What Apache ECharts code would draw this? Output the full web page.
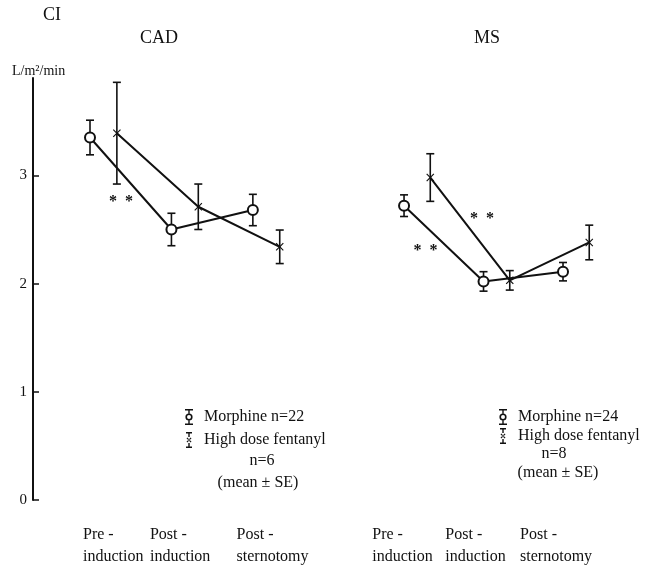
<!DOCTYPE html>
<html><head><meta charset="utf-8">
<script src="https://cdn.jsdelivr.net/npm/echarts@6/dist/echarts.min.js"></script>
<style>html,body{margin:0;padding:0;background:#fff}#c{width:646px;height:567px}</style>
</head><body><div id="c"></div>
<script>
// ---- data ----
const categories = ['Pre -\ninduction', 'Post -\ninduction', 'Post -\nsternotomy'];
const yTicks = [0, 1, 2, 3];
const cadMorphine   = [3.35, 2.50, 2.68];
const cadMorphineSE = [0.16, 0.15, 0.145];
const cadFentanyl   = [3.39, 2.71, 2.34];
const cadFentanylSE = [0.47, 0.21, 0.155];
const msMorphine    = [2.72, 2.02, 2.11];
const msMorphineSE  = [0.10, 0.09, 0.085];
const msFentanyl    = [2.98, 2.03, 2.38];
const msFentanylSE  = [0.22, 0.09, 0.16];
const panelTitles = ['CAD', 'MS'];
const morphineNames = ['Morphine n=22', 'Morphine n=24'];
const fentanylName = 'High dose fentanyl';
const groupNotes = [['n=6', '(mean ± SE)'], ['n=8', '(mean ± SE)']];
const sigText = '*';

// ---- layout / style ----
const FONT = '"Liberation Serif", "DejaVu Serif", serif';
const INK = '#111';
const FENT_OFFSET = 0.33;
const sigMarks = [
  { grid: 0, x: 0.38, y: 2.78 },
  { grid: 1, x: 0.27, y: 2.33 },
  { grid: 1, x: 0.98, y: 2.63 }
];
const labelPos = [[-0.086, 0.736, 1.80], [-0.40, 0.52, 1.46]];

function lineData(vals, off) { return vals.map((v, i) => [i + off, v]); }
function errData(vals, se, off) { return vals.map((v, i) => [i + off, v - se[i], v + se[i]]); }

function renderErr(params, api) {
  const x = api.value(0), lo = api.value(1), hi = api.value(2);
  const pLo = api.coord([x, lo]), pHi = api.coord([x, hi]);
  const w = 4;
  const st = { stroke: INK, lineWidth: 1.6 };
  return { type: 'group', children: [
    { type: 'line', shape: { x1: pHi[0], y1: pHi[1], x2: pLo[0], y2: pLo[1] }, style: st },
    { type: 'line', shape: { x1: pHi[0] - w, y1: pHi[1], x2: pHi[0] + w, y2: pHi[1] }, style: st },
    { type: 'line', shape: { x1: pLo[0] - w, y1: pLo[1], x2: pLo[0] + w, y2: pLo[1] }, style: st }
  ]};
}

const crossPath = 'path://M0,1L1,0L5,4L9,0L10,1L6,5L10,9L9,10L5,6L1,10L0,9L4,5Z';
const morphIcon = 'path://M1,0H9V1.4H1Z M4.3,0H5.7V4.6H4.3Z M4.3,11.4H5.7V16H4.3Z M1,14.6H9V16H1Z M8.6,8A3.6,3.6 0 1,0 1.4,8A3.6,3.6 0 1,0 8.6,8Z M7,8A2,2 0 1,1 3,8A2,2 0 1,1 7,8Z';
const fentIcon = 'path://M2,0H8V1.4H2Z M4.3,0H5.7V5H4.3Z M2.5,6.3L3.3,5.5L7.5,9.7L6.7,10.5Z M7.5,6.3L6.7,5.5L2.5,9.7L3.3,10.5Z M4.3,11H5.7V16H4.3Z M2,14.6H8V16H2Z';

function xAxisFor(g) {
  const cv = labelPos[g];
  return {
    type: 'value', gridIndex: g, min: -0.7, max: 2.8,
    axisLine: { show: false, onZero: false }, axisTick: { show: false }, splitLine: { show: false },
    axisLabel: {
      customValues: cv,
      formatter: v => { const i = cv.findIndex(c => Math.abs(c - v) < 1e-6); return i >= 0 ? categories[i] : ''; },
      align: 'left', margin: 24, lineHeight: 22, fontSize: 16, fontFamily: FONT, color: INK
    }
  };
}

function seriesFor(g, morph, morphSE, fent, fentSE) {
  return [
    { type: 'custom', xAxisIndex: g, yAxisIndex: g, renderItem: renderErr, z: 1,
      encode: { x: 0, y: [1, 2] }, data: errData(morph, morphSE, 0), silent: true },
    { type: 'custom', xAxisIndex: g, yAxisIndex: g, renderItem: renderErr, z: 1,
      encode: { x: 0, y: [1, 2] }, data: errData(fent, fentSE, FENT_OFFSET), silent: true },
    { type: 'line', name: morphineNames[g], xAxisIndex: g, yAxisIndex: g, z: 3,
      data: lineData(morph, 0), symbol: 'emptyCircle', symbolSize: 10,
      itemStyle: { color: INK, borderWidth: 2.2 }, lineStyle: { color: INK, width: 2 }, animation: false },
    { type: 'line', name: fentanylName, xAxisIndex: g, yAxisIndex: g, z: 3,
      data: lineData(fent, FENT_OFFSET), symbol: crossPath, symbolSize: 8,
      itemStyle: { color: INK, borderWidth: 0 }, lineStyle: { color: INK, width: 2 }, animation: false }
  ];
}

function legendFor(g, left, gap) {
  return {
    orient: 'vertical', left: left, top: 404, itemWidth: 8, itemHeight: 16, itemGap: gap,
    selectedMode: false,
    data: [
      { name: morphineNames[g], icon: morphIcon, itemStyle: { color: INK, borderWidth: 0 } },
      { name: fentanylName, icon: fentIcon, itemStyle: { color: INK, borderWidth: 0 } }
    ],
    textStyle: { fontFamily: FONT, fontSize: 16, color: INK, padding: [0, 0, 0, 6] }
  };
}

function txt(id, x, y, text, size, align, weight) {
  return { type: 'text', id: id, x: x, y: y, silent: true,
    style: { text: text, font: (weight ? weight + ' ' : '') + size + 'px ' + FONT, fill: INK,
      align: align, verticalAlign: 'middle', textAlign: align, textVerticalAlign: 'middle' } };
}

const staticGraphics = [
  txt('ci', 43, 15, 'CI', 18, 'left'),
  txt('t0', 159, 38, panelTitles[0], 18, 'center'),
  txt('t1', 487, 38, panelTitles[1], 18, 'center'),
  txt('unit', 12, 71, 'L/m²/min', 14, 'left'),
  txt('n0a', 262, 461, groupNotes[0][0], 16, 'center'),
  txt('n0b', 258, 483, groupNotes[0][1], 16, 'center'),
  txt('n1a', 554, 454, groupNotes[1][0], 16, 'center'),
  txt('n1b', 558, 473, groupNotes[1][1], 16, 'center')
];

const chart = echarts.init(document.getElementById('c'), null, { renderer: 'canvas' });
chart.setOption({
  animation: false,
  backgroundColor: '#fff',
  grid: [
    { left: 33, top: 78, width: 285, height: 422, outerBoundsMode: 'none' },
    { left: 348.4, top: 78, width: 278.2, height: 422, outerBoundsMode: 'none' }
  ],
  xAxis: [xAxisFor(0), xAxisFor(1)],
  yAxis: [
    { type: 'value', gridIndex: 0, min: 0, max: 3.9, position: 'left',
      axisLine: { show: true, onZero: false, lineStyle: { color: INK, width: 2 } },
      axisTick: { show: true, inside: true, length: 6, customValues: yTicks, lineStyle: { color: INK, width: 1.5 } },
      axisLabel: { customValues: yTicks, fontSize: 15, fontFamily: FONT, color: INK, margin: 6 },
      splitLine: { show: false } },
    { type: 'value', gridIndex: 1, min: 0, max: 3.9, show: false, splitLine: { show: false } }
  ],
  legend: [legendFor(0, 180, 7), legendFor(1, 494, 3)],
  series: [].concat(
    seriesFor(0, cadMorphine, cadMorphineSE, cadFentanyl, cadFentanylSE),
    seriesFor(1, msMorphine, msMorphineSE, msFentanyl, msFentanylSE)
  ),
  graphic: { elements: staticGraphics }
});

const sigGraphics = [];
sigMarks.forEach((m, k) => {
  const p = chart.convertToPixel({ gridIndex: m.grid }, [m.x, m.y]);
  [-8, 8].forEach((dx, j) => {
    sigGraphics.push(txt('sig' + k + '_' + j, p[0] + dx, p[1] + 3, sigText, 16, 'center', 'bold'));
  });
});
chart.setOption({ graphic: { elements: staticGraphics.concat(sigGraphics) } });
</script>
</body></html>
